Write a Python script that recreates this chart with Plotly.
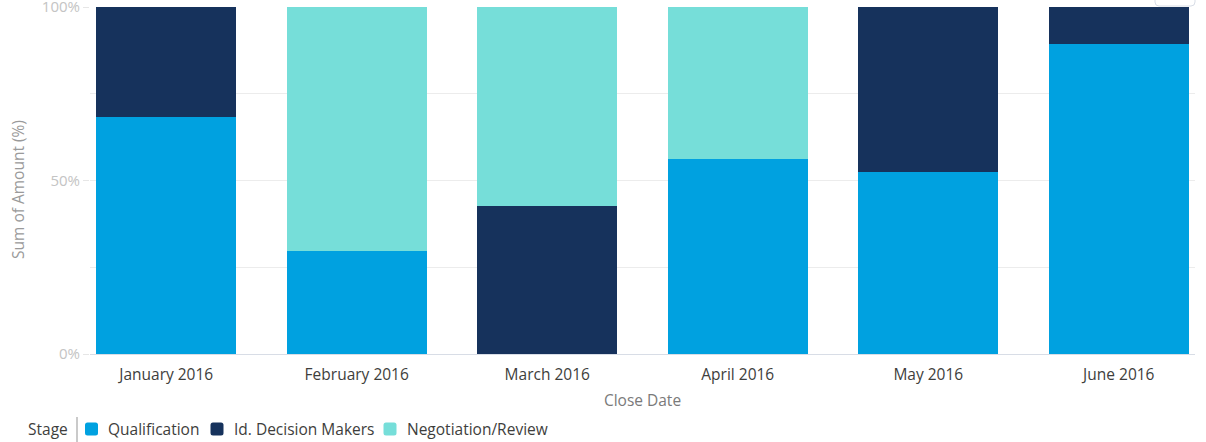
import plotly.graph_objects as go

# Close dates (categories) and each stage's share of the amount, in percent
months = ["January 2016", "February 2016", "March 2016", "April 2016", "May 2016", "June 2016"]
qualification = [68.3, 29.7, 0.0, 56.2, 52.4, 89.3]
decision_makers = [31.7, 0.0, 42.7, 0.0, 47.6, 10.7]
negotiation = [0.0, 70.3, 57.3, 43.8, 0.0, 0.0]

y_tick_vals = [0, 50, 100]
y_tick_text = ["0%", "50%", "100%"]

stage_names = ["Qualification", "Id. Decision Makers", "Negotiation/Review"]
stage_values = [qualification, decision_makers, negotiation]
stage_colors = ["#00A1E0", "#16325C", "#76DED9"]

FONT = "Open Sans"
W, H = 1206, 442
ML, MR, MT, MB = 90, 11, 7, 88
PW, PH = W - ML - MR, H - MT - MB


def px_x(px):
    """page pixel column -> paper x"""
    return (px - ML) / PW


def px_y(py):
    """page pixel row -> paper y"""
    return (H - MB - py) / PH


def rounded_square(s, r):
    """closed SVG path of a square of half-size s with corner radius r, centred on 0,0"""
    return (
        f"M {-s + r},{-s} L {s - r},{-s} Q {s},{-s} {s},{-s + r} "
        f"L {s},{s - r} Q {s},{s} {s - r},{s} L {-s + r},{s} "
        f"Q {-s},{s} {-s},{s - r} L {-s},{-s + r} Q {-s},{-s} {-s + r},{-s} Z"
    )


fig = go.Figure()
for name, vals, color in zip(stage_names, stage_values, stage_colors):
    fig.add_trace(go.Bar(
        x=months, y=vals, name=name,
        marker=dict(color=color, line=dict(width=0)),
    ))

fig.update_layout(
    barmode="stack",
    bargap=0.265,
    width=W, height=H,
    margin=dict(l=ML, r=MR, t=MT, b=MB, autoexpand=False),
    paper_bgcolor="white", plot_bgcolor="white",
    font=dict(family=FONT, size=15.5, color="#3e3e3c"),
    showlegend=False,
)

fig.update_xaxes(
    range=[-0.4, 5.4],
    showgrid=False,
    showline=True, linecolor="#d8dde6", linewidth=1,
    ticks="", ticklabelstandoff=6,
    tickfont=dict(size=15.5, color="#3e3e3c"),
    automargin=False,
    title=dict(text="Close Date", font=dict(size=15.5, color="#7a7a7a"), standoff=11),
)

fig.update_yaxes(
    range=[0, 100],
    tickvals=y_tick_vals, ticktext=y_tick_text,
    tickfont=dict(size=15, color="#c4c4c4"),
    ticklabeloverflow="allow",
    ticks="outside", ticklen=6, tickcolor="#e6e6e6",
    showgrid=True, gridcolor="#ececec",
    minor=dict(dtick=25, showgrid=True, gridcolor="#ececec", ticks=""),
    zeroline=False, showline=False,
    automargin=False,
)

# y-axis title
fig.add_annotation(
    text="Sum of Amount (%)", textangle=-90,
    xref="paper", yref="paper", x=px_x(18), y=px_y(190),
    xanchor="center", yanchor="middle", showarrow=False,
    font=dict(size=15.5, color="#9a9a9a"),
)

# legend: title, divider, then one swatch + label per stage
LEG_Y = 429
fig.add_annotation(
    text="Stage", xref="paper", yref="paper", x=px_x(26), y=px_y(LEG_Y),
    xanchor="left", yanchor="middle", showarrow=False,
    font=dict(size=15.5, color="#3e3e3c"),
)
fig.add_shape(
    type="line", xref="paper", yref="paper",
    x0=px_x(77), x1=px_x(77), y0=px_y(417), y1=px_y(442),
    line=dict(color="#b8b8b8", width=1.5),
)

swatch_centers = [91.5, 217, 390]
for name, color, cx in zip(stage_names, stage_colors, swatch_centers):
    fig.add_shape(
        type="path", path=rounded_square(6.5, 2.5),
        xref="paper", yref="paper",
        xsizemode="pixel", ysizemode="pixel",
        xanchor=px_x(cx), yanchor=px_y(LEG_Y),
        fillcolor=color, line=dict(width=0),
    )
    fig.add_annotation(
        text=name, xref="paper", yref="paper",
        x=px_x(cx + 14.5), y=px_y(LEG_Y),
        xanchor="left", yanchor="middle", showarrow=False,
        font=dict(size=15.5, color="#3e3e3c"),
    )

# outline of the toolbar button peeking in at the top-right corner
fig.add_shape(
    type="path", path=rounded_square(20, 4),
    xref="paper", yref="paper",
    xsizemode="pixel", ysizemode="pixel",
    xanchor=px_x(1175), yanchor=px_y(-14),
    fillcolor="white", line=dict(color="#d8dde6", width=1),
    layer="above",
)

fig.write_html("out.html")
